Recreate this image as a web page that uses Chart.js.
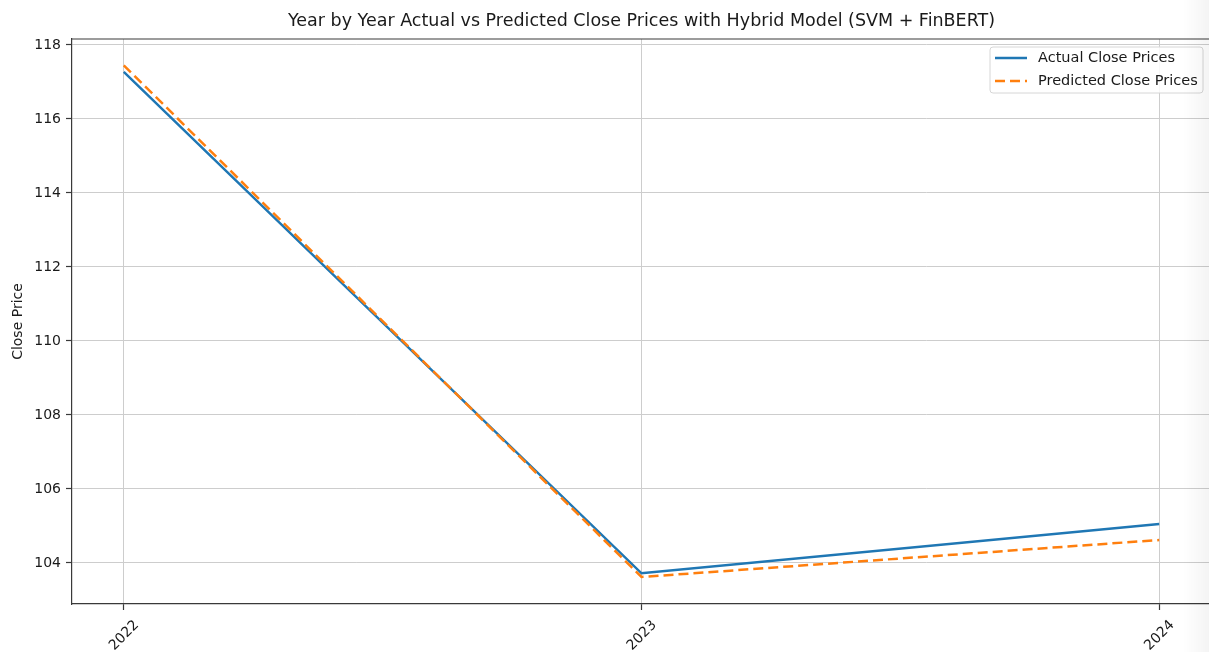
<!DOCTYPE html>
<html>
<head>
<meta charset="utf-8">
<title>Year by Year Actual vs Predicted Close Prices</title>
<script src="https://cdn.jsdelivr.net/npm/chart.js@4.4.1/dist/chart.umd.min.js"></script>
<style>
  html, body { margin: 0; padding: 0; background: #fff; overflow: hidden; width: 1209px; height: 652px; }
  #wrap { position: relative; width: 1222px; height: 652px; }
  #edge { position: absolute; left: 1183px; top: 0; width: 26px; height: 652px;
          background: linear-gradient(to right, rgba(0,0,0,0), rgba(0,0,0,0.045)); pointer-events: none; }
</style>
</head>
<body>
<div id="wrap"><canvas id="chart" width="1222" height="652"></canvas></div>
<div id="edge"></div>
<script>
// Yearly close prices
const years = [2022, 2023, 2024];
const actualClose = [117.27, 103.72, 105.05];
const predictedClose = [117.45, 103.62, 104.62];

// Axis ticks and ranges
const yTicks = [104, 106, 108, 110, 112, 114, 116, 118];
const yRange = [102.89, 118.16];
const xRange = [2021.9, 2024.1];

const seriesLabels = ['Actual Close Prices', 'Predicted Close Prices'];
const chartTitle = 'Year by Year Actual vs Predicted Close Prices with Hybrid Model (SVM + FinBERT)';

const FONT = "'DejaVu Sans', 'Liberation Sans', sans-serif";
const TEXT = '#1a1a1a';
const GRID = '#cdcdcd';
const SPINE = '#3a3a3a';

Chart.defaults.font.family = FONT;
Chart.defaults.color = TEXT;

const toPoints = (vals) => years.map((yr, i) => ({ x: yr, y: vals[i] }));

// Top/right frame lines to close the axes box
const framePlugin = {
  id: 'frame',
  afterDraw(chart) {
    const { ctx, chartArea: a } = chart;
    ctx.save();
    ctx.strokeStyle = SPINE;
    ctx.lineWidth = 1.2;
    ctx.beginPath();
    ctx.moveTo(a.left, a.top);
    ctx.lineTo(a.right, a.top);
    ctx.lineTo(a.right, a.bottom);
    ctx.stroke();
    ctx.restore();
  }
};

// Legend box drawn inside the upper-right corner of the plot area
const insideLegend = {
  id: 'insideLegend',
  afterDraw(chart) {
    const { ctx, chartArea: a } = chart;
    const boxW = 213, boxH = 46;
    const x0 = a.right - 8 - boxW, y0 = a.top + 8;
    ctx.save();
    ctx.beginPath();
    ctx.roundRect(x0, y0, boxW, boxH, 3);
    ctx.fillStyle = 'rgba(255,255,255,0.85)';
    ctx.fill();
    ctx.strokeStyle = '#d6d6d6';
    ctx.lineWidth = 1;
    ctx.stroke();
    ctx.font = '14.5px ' + FONT;
    ctx.textBaseline = 'middle';
    chart.data.datasets.forEach((ds, i) => {
      const yy = y0 + 11 + i * 23;
      ctx.beginPath();
      ctx.setLineDash(ds.borderDash || []);
      ctx.strokeStyle = ds.borderColor;
      ctx.lineWidth = ds.borderWidth;
      ctx.moveTo(x0 + 5, yy);
      ctx.lineTo(x0 + 37, yy);
      ctx.stroke();
      ctx.setLineDash([]);
      ctx.fillStyle = TEXT;
      ctx.fillText(ds.label, x0 + 48, yy);
    });
    ctx.restore();
  }
};

new Chart(document.getElementById('chart'), {
  type: 'line',
  data: {
    datasets: [
      {
        label: seriesLabels[0],
        data: toPoints(actualClose),
        borderColor: '#1f77b4',
        borderWidth: 2.5,
        pointRadius: 0,
        tension: 0,
        order: 1
      },
      {
        label: seriesLabels[1],
        data: toPoints(predictedClose),
        borderColor: '#ff7f0e',
        borderWidth: 2.5,
        borderDash: [10, 5],
        pointRadius: 0,
        tension: 0,
        order: 0
      }
    ]
  },
  options: {
    responsive: false,
    animation: false,
    devicePixelRatio: 1,
    layout: { padding: { left: 0, right: 11, top: 0, bottom: 0 } },
    plugins: {
      legend: { display: false },
      tooltip: { enabled: false },
      title: {
        display: true,
        text: chartTitle,
        fullSize: false,
        color: TEXT,
        font: { size: 17.5, weight: 'normal', family: FONT },
        padding: { top: 11, bottom: 7 }
      }
    },
    scales: {
      x: {
        type: 'linear',
        min: xRange[0],
        max: xRange[1],
        afterBuildTicks: (s) => { s.ticks = years.map(v => ({ value: v })); },
        afterFit: (s) => { s.height = 48; s.paddingLeft = 0; s.paddingRight = 0; },
        ticks: {
          callback: (v) => String(v),
          minRotation: 45,
          maxRotation: 45,
          labelOffset: 13,
          padding: 7,
          color: TEXT,
          font: { size: 14 }
        },
        grid: { color: GRID, lineWidth: 1, tickLength: 6, tickColor: SPINE, tickWidth: 1.2 },
        border: { color: SPINE, width: 1.2 }
      },
      y: {
        type: 'linear',
        min: yRange[0],
        max: yRange[1],
        afterBuildTicks: (s) => { s.ticks = yTicks.map(v => ({ value: v })); },
        afterFit: (s) => { s.width = 72; s.paddingTop = 0; s.paddingBottom = 0; },
        ticks: { padding: 5, color: TEXT, font: { size: 14 } },
        grid: { color: GRID, lineWidth: 1, tickLength: 6, tickColor: SPINE, tickWidth: 1.2 },
        border: { color: SPINE, width: 1.2 },
        title: {
          display: true,
          text: 'Close Price',
          color: TEXT,
          font: { size: 14 },
          padding: { top: 10, bottom: 0 }
        }
      }
    }
  },
  plugins: [framePlugin, insideLegend]
});
</script>
</body>
</html>
